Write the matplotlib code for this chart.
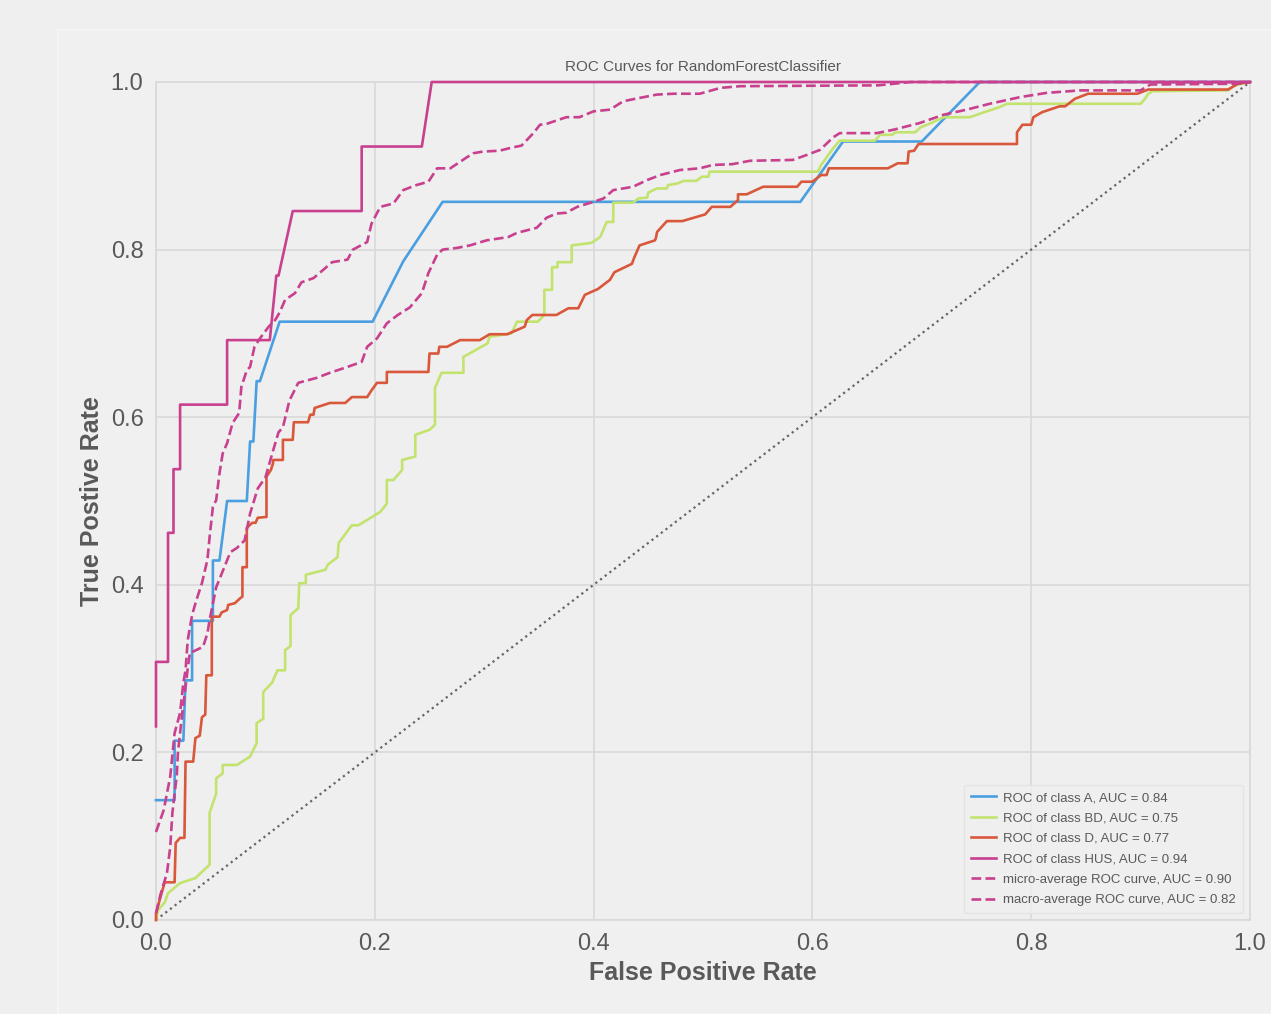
import matplotlib
matplotlib.use("Agg")
import matplotlib.pyplot as plt
from matplotlib.patches import Rectangle

plt.rcParams['font.family'] = ['Liberation Sans', 'DejaVu Sans']

# ROC curve points
fpr_a = [0, 0.017, 0.017, 0.025, 0.027, 0.033, 0.033, 0.052, 0.052, 0.058, 0.065, 0.083, 0.086,
         0.089, 0.092, 0.095, 0.113, 0.198, 0.226, 0.262, 0.589, 0.628, 0.700, 0.753, 1.0]
tpr_a = [0.143, 0.143, 0.214, 0.214, 0.286, 0.286, 0.357, 0.357, 0.429, 0.429, 0.50, 0.50, 0.571,
         0.571, 0.643, 0.643, 0.714, 0.714, 0.786, 0.857, 0.857, 0.929, 0.929, 1.0, 1.0]

bd_pts = [(0.0, 0.0), (0.002, 0.012), (0.008, 0.021), (0.011, 0.032), (0.022, 0.044), (0.036, 0.050),
          (0.049, 0.066), (0.049, 0.128), (0.055, 0.151), (0.055, 0.169), (0.061, 0.175), (0.061, 0.185),
          (0.074, 0.185), (0.086, 0.195), (0.092, 0.211), (0.092, 0.235), (0.098, 0.240), (0.098, 0.272),
          (0.106, 0.283), (0.111, 0.298), (0.118, 0.298), (0.118, 0.322), (0.123, 0.327), (0.123, 0.364),
          (0.130, 0.372), (0.131, 0.402), (0.137, 0.402), (0.137, 0.412), (0.155, 0.418), (0.157, 0.424),
          (0.166, 0.433), (0.167, 0.450), (0.179, 0.471), (0.185, 0.471), (0.205, 0.487), (0.211, 0.497),
          (0.211, 0.525), (0.217, 0.525), (0.225, 0.537), (0.225, 0.549), (0.237, 0.553), (0.237, 0.579),
          (0.250, 0.585), (0.255, 0.591), (0.255, 0.635), (0.261, 0.653), (0.281, 0.653), (0.281, 0.672),
          (0.303, 0.688), (0.305, 0.696), (0.325, 0.700), (0.330, 0.714), (0.349, 0.714), (0.355, 0.722),
          (0.355, 0.752), (0.362, 0.752), (0.362, 0.779), (0.367, 0.779), (0.367, 0.785), (0.380, 0.785),
          (0.380, 0.805), (0.398, 0.808), (0.406, 0.815), (0.408, 0.821), (0.412, 0.833), (0.418, 0.833),
          (0.418, 0.856), (0.436, 0.856), (0.441, 0.861), (0.449, 0.862), (0.450, 0.868), (0.458, 0.873),
          (0.467, 0.873), (0.468, 0.877), (0.477, 0.879), (0.482, 0.882), (0.494, 0.882), (0.499, 0.887),
          (0.505, 0.887), (0.506, 0.893), (0.605, 0.893), (0.608, 0.901), (0.619, 0.921), (0.625, 0.930),
          (0.657, 0.930), (0.662, 0.937), (0.673, 0.937), (0.676, 0.940), (0.694, 0.940), (0.699, 0.946),
          (0.705, 0.949), (0.720, 0.958), (0.744, 0.958), (0.755, 0.963), (0.771, 0.970), (0.778, 0.974),
          (0.900, 0.974), (0.904, 0.980), (0.907, 0.986), (0.911, 0.989), (0.980, 0.990), (0.986, 0.996),
          (1.0, 1.0)]

d_pts = [(0.0, 0.0), (0.0, 0.008), (0.004, 0.027), (0.008, 0.045), (0.017, 0.045), (0.018, 0.092),
         (0.022, 0.098), (0.026, 0.098), (0.027, 0.189), (0.034, 0.189), (0.036, 0.217), (0.040, 0.220),
         (0.042, 0.242), (0.045, 0.245), (0.046, 0.292), (0.051, 0.292), (0.051, 0.362), (0.058, 0.362),
         (0.060, 0.367), (0.065, 0.370), (0.066, 0.376), (0.072, 0.378), (0.077, 0.384), (0.079, 0.386),
         (0.079, 0.421), (0.083, 0.421), (0.083, 0.468), (0.088, 0.474), (0.091, 0.474), (0.093, 0.480),
         (0.101, 0.481), (0.101, 0.529), (0.105, 0.537), (0.107, 0.545), (0.107, 0.549), (0.116, 0.549),
         (0.116, 0.573), (0.125, 0.573), (0.126, 0.594), (0.139, 0.594), (0.141, 0.603), (0.144, 0.603),
         (0.145, 0.611), (0.159, 0.617), (0.173, 0.617), (0.179, 0.624), (0.193, 0.624), (0.197, 0.632),
         (0.202, 0.641), (0.211, 0.641), (0.211, 0.654), (0.249, 0.654), (0.250, 0.676), (0.258, 0.676),
         (0.259, 0.684), (0.266, 0.684), (0.278, 0.692), (0.296, 0.692), (0.305, 0.699), (0.321, 0.699),
         (0.337, 0.708), (0.339, 0.716), (0.344, 0.722), (0.366, 0.722), (0.377, 0.730), (0.386, 0.730),
         (0.392, 0.746), (0.404, 0.753), (0.415, 0.764), (0.419, 0.773), (0.435, 0.783), (0.437, 0.790),
         (0.442, 0.805), (0.456, 0.811), (0.457, 0.814), (0.458, 0.821), (0.467, 0.834), (0.481, 0.834),
         (0.502, 0.842), (0.508, 0.851), (0.525, 0.851), (0.532, 0.859), (0.532, 0.866), (0.540, 0.866),
         (0.555, 0.875), (0.586, 0.875), (0.590, 0.881), (0.600, 0.881), (0.608, 0.889), (0.613, 0.889),
         (0.615, 0.897), (0.669, 0.897), (0.678, 0.903), (0.687, 0.903), (0.688, 0.917), (0.693, 0.918),
         (0.697, 0.926), (0.787, 0.926), (0.787, 0.940), (0.792, 0.949), (0.800, 0.949), (0.802, 0.958),
         (0.810, 0.964), (0.826, 0.971), (0.831, 0.971), (0.840, 0.980), (0.852, 0.986), (0.897, 0.986),
         (0.907, 0.991), (0.980, 0.991), (0.989, 0.998), (1.0, 1.0)]

fpr_hus = [0, 0, 0.011, 0.011, 0.016, 0.016, 0.022, 0.022, 0.065, 0.065, 0.104, 0.110, 0.112,
           0.125, 0.188, 0.188, 0.243, 0.252, 1.0]
tpr_hus = [0.231, 0.308, 0.308, 0.462, 0.462, 0.538, 0.538, 0.615, 0.615, 0.692, 0.692, 0.769, 0.769,
           0.846, 0.846, 0.923, 0.923, 1.0, 1.0]

micro_pts = [(0.0, 0.105), (0.007, 0.131), (0.010, 0.151), (0.013, 0.171), (0.017, 0.223), (0.022, 0.247),
             (0.025, 0.283), (0.027, 0.298), (0.029, 0.334), (0.033, 0.364), (0.037, 0.382), (0.042, 0.402),
             (0.047, 0.430), (0.049, 0.457), (0.052, 0.493), (0.055, 0.501), (0.058, 0.533), (0.061, 0.557),
             (0.065, 0.569), (0.070, 0.593), (0.076, 0.605), (0.078, 0.636), (0.083, 0.656), (0.086, 0.660),
             (0.090, 0.684), (0.095, 0.694), (0.103, 0.708), (0.109, 0.716), (0.113, 0.725), (0.118, 0.740),
             (0.127, 0.748), (0.133, 0.761), (0.144, 0.766), (0.153, 0.776), (0.161, 0.785), (0.175, 0.788),
             (0.180, 0.800), (0.193, 0.809), (0.197, 0.831), (0.205, 0.851), (0.217, 0.855), (0.226, 0.871),
             (0.238, 0.877), (0.249, 0.881), (0.257, 0.897), (0.269, 0.897), (0.284, 0.910), (0.290, 0.915),
             (0.299, 0.917), (0.314, 0.918), (0.326, 0.922), (0.334, 0.924), (0.345, 0.939), (0.351, 0.949),
             (0.357, 0.950), (0.375, 0.958), (0.387, 0.958), (0.400, 0.965), (0.415, 0.967), (0.427, 0.977),
             (0.442, 0.981), (0.458, 0.985), (0.473, 0.986), (0.497, 0.986), (0.516, 0.993), (0.534, 0.995),
             (0.660, 0.996), (0.690, 1.0), (1.0, 1.0)]

macro_pts = [(0.0, 0.008), (0.004, 0.030), (0.010, 0.056), (0.013, 0.087), (0.015, 0.128), (0.017, 0.151),
             (0.019, 0.172), (0.020, 0.199), (0.022, 0.223), (0.024, 0.247), (0.027, 0.278), (0.029, 0.300),
             (0.031, 0.319), (0.035, 0.321), (0.043, 0.326), (0.047, 0.342), (0.049, 0.358), (0.055, 0.397),
             (0.068, 0.439), (0.074, 0.444), (0.081, 0.453), (0.086, 0.485), (0.093, 0.515), (0.100, 0.528),
             (0.107, 0.560), (0.112, 0.582), (0.116, 0.588), (0.122, 0.620), (0.130, 0.641), (0.147, 0.647),
             (0.159, 0.653), (0.175, 0.660), (0.188, 0.666), (0.193, 0.684), (0.202, 0.694), (0.211, 0.712),
             (0.221, 0.722), (0.232, 0.731), (0.243, 0.748), (0.249, 0.772), (0.257, 0.794), (0.262, 0.800),
             (0.275, 0.802), (0.287, 0.805), (0.302, 0.811), (0.322, 0.815), (0.330, 0.820), (0.348, 0.826),
             (0.357, 0.838), (0.366, 0.843), (0.375, 0.844), (0.385, 0.851), (0.400, 0.857), (0.409, 0.861),
             (0.418, 0.871), (0.436, 0.875), (0.449, 0.883), (0.461, 0.889), (0.479, 0.895), (0.497, 0.897),
             (0.509, 0.901), (0.527, 0.902), (0.543, 0.906), (0.582, 0.907), (0.595, 0.913), (0.607, 0.919),
             (0.619, 0.934), (0.625, 0.939), (0.659, 0.939), (0.674, 0.943), (0.698, 0.951), (0.720, 0.961),
             (0.741, 0.967), (0.762, 0.974), (0.790, 0.982), (0.814, 0.987), (0.845, 0.990), (0.900, 0.990),
             (0.909, 0.997), (0.995, 0.998), (1.0, 1.0)]

labels = ['ROC of class A, AUC = 0.84', 'ROC of class BD, AUC = 0.75', 'ROC of class D, AUC = 0.77',
          'ROC of class HUS, AUC = 0.94', 'micro-average ROC curve, AUC = 0.90',
          'macro-average ROC curve, AUC = 0.82']
ticks = [0.0, 0.2, 0.4, 0.6, 0.8, 1.0]

BG = '#efefef'
GRID = '#d9d9d9'
TXT = '#595959'
C_A = '#4a9fe0'
C_BD = '#c3e36f'
C_D = '#d9573b'
C_HUS = '#c8408e'

fig = plt.figure(figsize=(12.71, 10.14), dpi=100, facecolor=BG)
fig.patches.append(Rectangle((58 / 1271, 0), 1.0, 1 - 30 / 1014, transform=fig.transFigure,
                             facecolor='#f0f0f0', edgecolor='#f6f6f6', lw=1.2, zorder=-5))
ax = fig.add_axes([156 / 1271, 1 - 920 / 1014, 1094 / 1271, 838 / 1014])
ax.set_zorder(1)
ax.set_facecolor(BG)

kw = dict(lw=1.9, zorder=3, clip_on=False)
ax.plot(fpr_a, tpr_a, color=C_A, label=labels[0], **kw)
ax.plot([p[0] for p in bd_pts], [p[1] for p in bd_pts], color=C_BD, label=labels[1], **kw)
ax.plot([p[0] for p in d_pts], [p[1] for p in d_pts], color=C_D, label=labels[2], **kw)
ax.plot(fpr_hus, tpr_hus, color=C_HUS, label=labels[3], **kw)
ax.plot([p[0] for p in micro_pts], [p[1] for p in micro_pts], color=C_HUS, ls='--', label=labels[4], **kw)
ax.plot([p[0] for p in macro_pts], [p[1] for p in macro_pts], color=C_HUS, ls='--', label=labels[5], **kw)
ax.plot([0, 1], [0, 1], color='#666666', lw=1.6, ls=':')

ax.set_xlim(0, 1)
ax.set_ylim(0, 1)
ax.set_xticks(ticks)
ax.set_yticks(ticks)
ax.grid(True, color=GRID, lw=1.2)
ax.set_axisbelow(True)
for s in ax.spines.values():
    s.set_color(GRID)
    s.set_linewidth(1.2)
ax.tick_params(length=0, labelsize=17, labelcolor=TXT, pad=9)

ax.set_title('ROC Curves for RandomForestClassifier', fontsize=11, color=TXT, pad=8)
ax.set_xlabel('False Positive Rate', fontsize=18, fontweight='bold', color=TXT, labelpad=5)
ax.set_ylabel('True Postive Rate', fontsize=18, fontweight='bold', color=TXT, labelpad=5)

leg = ax.legend(loc='lower right', fontsize=9.5, frameon=True, facecolor=BG, edgecolor='#e2e2e2',
                borderaxespad=0.5, handlelength=1.9, handletextpad=0.55, labelspacing=0.62,
                borderpad=0.55)
leg.set_zorder(5)
for t in leg.get_texts():
    t.set_color(TXT)

fig.savefig('out.png', dpi=100, facecolor=BG)
